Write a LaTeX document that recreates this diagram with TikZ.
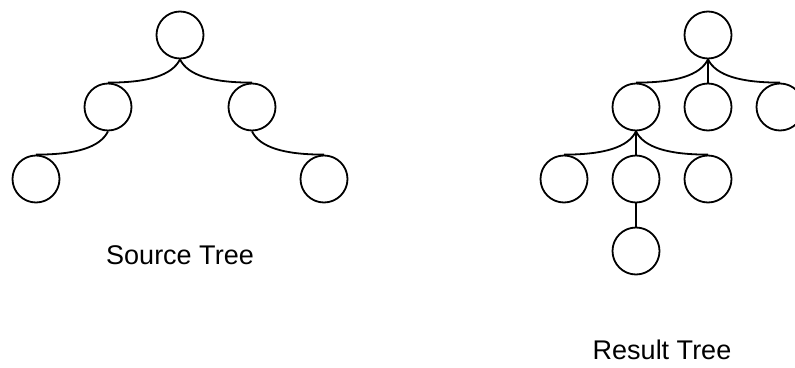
\documentclass[tikz,border=0pt]{standalone}
\usepackage{fontspec}
\setmainfont{Liberation Sans}
\begin{document}
\begin{tikzpicture}[x=1pt,y=-1pt,
  vertex/.style={circle,draw,line width=1.8pt,minimum size=47pt,inner sep=0pt},
  edge/.style={line width=1.8pt},
  caption/.style={font=\fontsize{27}{32}\selectfont,inner sep=0pt,anchor=base}]
\useasboundingbox (0,0) rectangle (795,367);
\clip (0,0) rectangle (795,367);

% source tree
\node[vertex] (s)   at (180,35)  {};
\node[vertex] (sl)  at (108,107) {};
\node[vertex] (sr)  at (252,107) {};
\node[vertex] (sll) at (36,179)  {};
\node[vertex] (srr) at (324,179) {};
\draw[edge] (s.south)  .. controls +(-8,16) and +(40,0)  .. (sl.north);
\draw[edge] (s.south)  .. controls +(8,16)  and +(-40,0) .. (sr.north);
\draw[edge] (sl.south) .. controls +(-8,16) and +(40,0)  .. (sll.north);
\draw[edge] (sr.south) .. controls +(8,16)  and +(-40,0) .. (srr.north);
\node[caption] (scap) at (180,264) {Source Tree};

% result tree
\node[vertex] (r)   at (708,35)  {};
\node[vertex] (ra)  at (636,107) {};
\node[vertex] (rb)  at (708,107) {};
\node[vertex] (rc)  at (780,107) {};
\node[vertex] (raa) at (564,179) {};
\node[vertex] (rab) at (636,179) {};
\node[vertex] (rac) at (708,179) {};
\node[vertex] (rba) at (636,251) {};
\draw[edge] (r.south)  .. controls +(-8,16) and +(40,0)  .. (ra.north);
\draw[edge] (r.south)  -- (rb.north);
\draw[edge] (r.south)  .. controls +(8,16)  and +(-40,0) .. (rc.north);
\draw[edge] (ra.south) .. controls +(-8,16) and +(40,0)  .. (raa.north);
\draw[edge] (ra.south) -- (rab.north);
\draw[edge] (ra.south) .. controls +(8,16)  and +(-40,0) .. (rac.north);
\draw[edge] (rab.south) -- (rba.north);
\node[caption] (rcap) at (662,359) {Result Tree};
\end{tikzpicture}
\end{document}
